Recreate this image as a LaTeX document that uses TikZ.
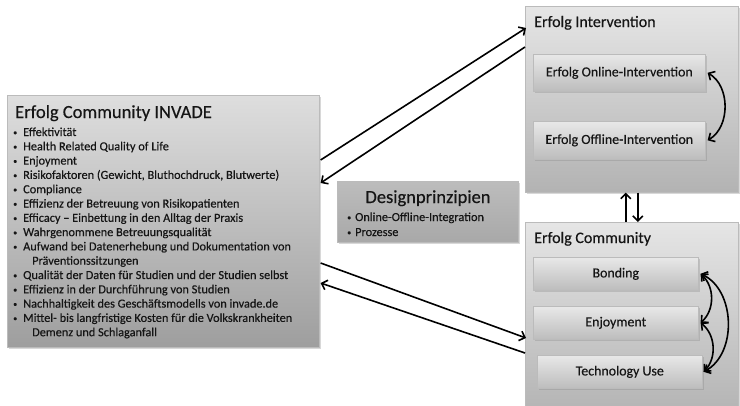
\documentclass[tikz,border=0pt]{standalone}
\usepackage{fontspec}
\setmainfont{Carlito}[UprightFeatures={FakeBold=0.35}]
\usetikzlibrary{shadows,calc,arrows.meta}
\definecolor{txt}{HTML}{151515}
\definecolor{bord}{HTML}{BBBBBB}
\newcommand\mybul[1]{\makebox[#1][l]{\raisebox{0.9pt}{\fontsize{8}{8}\selectfont•}}}
\tikzset{
  panel/.style={draw=bord, line width=0.6pt, anchor=north west, inner sep=0pt,
    drop shadow={opacity=0.3, shadow xshift=1.8pt, shadow yshift=-1.8pt}},
  leftbox/.style={panel, top color=black!13, bottom color=black!38},
  designbox/.style={panel, top color=black!26, bottom color=black!34},
  container/.style={panel, top color=black!10, bottom color=black!30},
  innerbox/.style={panel, top color=black!9, bottom color=black!26,
    font=\fontsize{13.9}{16}\selectfont, text=txt},
  bigtitle/.style={anchor=base west, inner sep=0pt, text=txt, font=\fontsize{18.5}{22}\selectfont},
  midtitle/.style={anchor=base west, inner sep=0pt, text=txt, font=\fontsize{16}{19}\selectfont},
  bulline/.style={anchor=base west, inner sep=0pt, text=txt, font=\fontsize{12.3}{14.3}\selectfont},
  conn/.style={line width=1.6pt, black, -{Straight Barb[length=5pt,width=10pt]}},
  curvearrow/.style={line width=1.6pt, black, {Straight Barb[length=5pt,width=10pt]}-{Straight Barb[length=5pt,width=10pt]}},
}
\begin{document}
\begin{tikzpicture}[x=1pt, y=-1pt]
\clip (0,0) rectangle (740,405);
\fill[white] (0,0) rectangle (740,405);

% left box
\node[leftbox, minimum width=312pt, minimum height=252pt] (L) at (7,95) {};
\node[bigtitle] (Lt) at (15,118) {Erfolg Community INVADE};
\foreach \t [count=\i] in {
  {\mybul{10pt}Effektivität},
  {\mybul{10pt}Health Related Quality of Life},
  {\mybul{10pt}Enjoyment},
  {\mybul{10pt}Risikofaktoren (Gewicht, Bluthochdruck, Blutwerte)},
  {\mybul{10pt}Compliance},
  {\mybul{10pt}Effizienz der Betreuung von Risikopatienten},
  {\mybul{10pt}Efficacy – Einbettung in den Alltag der Praxis},
  {\mybul{10pt}Wahrgenommene Betreuungsqualität},
  {\mybul{10pt}Aufwand bei Datenerhebung und Dokumentation von},
  {\hspace*{19pt}Präventionssitzungen},
  {\mybul{10pt}Qualität der Daten für Studien und der Studien selbst},
  {\mybul{10pt}Effizienz in der Durchführung von Studien},
  {\mybul{10pt}Nachhaltigkeit des Geschäftsmodells von invade.de},
  {\mybul{10pt}Mittel- bis langfristige Kosten für die Volkskrankheiten},
  {\hspace*{19pt}Demenz und Schlaganfall}}
  \node[bulline] (Ll\i) at (13,{136+14.3*(\i-1)}) {\t};

% design principles
\node[designbox, minimum width=181pt, minimum height=61pt] (D) at (337,181) {};
\node[anchor=base, inner sep=0pt, text=txt, font=\fontsize{18.5}{22}\selectfont] (Dt) at (428,203) {Designprinzipien};
\node[bulline] (D1) at (347,221) {\mybul{8pt}Online-Offline-Integration};
\node[bulline] (D2) at (347,236) {\mybul{8pt}Prozesse};

% Erfolg Intervention
\node[container, minimum width=213pt, minimum height=186pt] (I) at (525,6) {};
\node[midtitle] (It) at (534,27) {Erfolg Intervention};
\node[innerbox, minimum width=172pt, minimum height=37pt] (On) at (533,54) {Erfolg Online-Intervention};
\node[innerbox, minimum width=172pt, minimum height=38pt] (Off) at (533,121) {Erfolg Offline-Intervention};

% Erfolg Community
\node[container, minimum width=213pt, minimum height=195pt] (C) at (525,222) {};
\node[midtitle] (Ct) at (534,243) {Erfolg Community};
\node[innerbox, minimum width=165pt, minimum height=33pt] (B) at (533,257) {Bonding};
\node[innerbox, minimum width=165pt, minimum height=33pt] (E) at (533,306) {Enjoyment};
\node[innerbox, minimum width=165pt, minimum height=33pt] (T) at (537,355) {Technology Use};

% connectors
\draw[conn] ($(L.north east)+(1,65)$) -- ($(I.north west)+(1,22)$);
\draw[conn] ($(I.north west)+(0,41)$) -- ($(L.north east)+(1,88)$);
\draw[conn] ($(L.north east)+(1,168)$) -- ($(C.north west)+(1,116)$);
\draw[conn] ($(C.north west)+(0,131)$) -- ($(L.north east)+(1,188)$);
\draw[conn] ($(C.north)+(-6,0)$) -- ($(I.south)+(-6,0)$);
\draw[conn] ($(I.south)+(6,0)$) -- ($(C.north)+(6,0)$);

\draw[curvearrow] ($(On.east)+(2,0)$) to[bend left=60] ($(Off.east)+(2,0)$);
\draw[curvearrow] ($(B.east)+(2,0)$) to[bend left=64] ($(T.east)+(1,0)$);
\draw[curvearrow] ($(B.east)+(2,0)$) to[bend left=48] ($(E.east)+(2,0)$);
\draw[curvearrow] ($(E.east)+(2,0)$) to[bend left=48] ($(T.east)+(1,0)$);
\end{tikzpicture}
\end{document}
